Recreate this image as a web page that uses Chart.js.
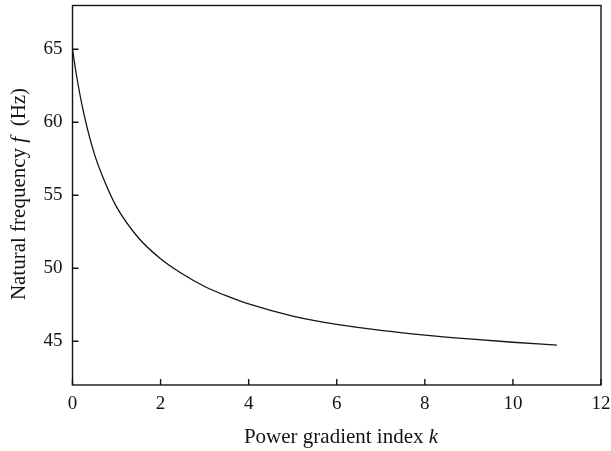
<!DOCTYPE html>
<html>
<head>
<meta charset="utf-8">
<script src="https://cdn.jsdelivr.net/npm/chart.js@4"></script>
<style>
  html, body { margin: 0; padding: 0; background: #fff; }
  #wrap { width: 611px; height: 451px; }
</style>
</head>
<body>
<div id="wrap"><canvas id="freqChart"></canvas></div>
<script>
// power gradient index k and natural frequency f (Hz)
const kValues = [0, 0.1, 0.25, 0.5, 0.75, 1, 1.5, 2, 2.5, 3, 3.5, 4, 5, 6, 7, 8, 9, 10, 11];
const freqValues = [65, 63.05, 60.7, 57.8, 55.8, 54.2, 52.07, 50.65, 49.6, 48.75, 48.1, 47.55, 46.72, 46.15, 45.74, 45.42, 45.16, 44.93, 44.73];
const xTicks = [0, 2, 4, 6, 8, 10, 12];
const yTicks = [45, 50, 55, 60, 65];

const ink = '#141414';
const serif = '"Liberation Serif", "DejaVu Serif", serif';

// draw a title made of plain and italic pieces, centred on cx
function mixedText(ctx, parts, cx, y) {
  const widths = parts.map(p => { ctx.font = p[1] + ' 21px ' + serif; return ctx.measureText(p[0]).width; });
  let x = cx - widths.reduce((a, b) => a + b, 0) / 2;
  parts.forEach((p, i) => {
    ctx.font = p[1] + ' 21px ' + serif;
    ctx.fillText(p[0], x, y);
    x += widths[i];
  });
}

// box round the plot, short inward ticks, axis titles
const frame = {
  id: 'frame',
  afterDraw(chart) {
    const { ctx, chartArea: a, scales } = chart;
    ctx.save();
    ctx.strokeStyle = ink;
    ctx.lineWidth = 1.4;
    ctx.strokeRect(a.left, a.top, a.right - a.left, a.bottom - a.top);
    ctx.beginPath();
    xTicks.forEach(v => {
      const x = scales.x.getPixelForValue(v);
      ctx.moveTo(x, a.bottom);
      ctx.lineTo(x, a.bottom - 6);
    });
    yTicks.forEach(v => {
      const y = scales.y.getPixelForValue(v);
      ctx.moveTo(a.left, y);
      ctx.lineTo(a.left + 6, y);
    });
    ctx.stroke();

    ctx.fillStyle = ink;
    ctx.textBaseline = 'alphabetic';
    ctx.textAlign = 'left';
    mixedText(ctx, [['Power gradient index ', 'normal'], ['k', 'italic']], 341, 443);
    ctx.translate(25, 194);
    ctx.rotate(-Math.PI / 2);
    mixedText(ctx, [['Natural frequency ', 'normal'], ['f', 'italic'], ['  (Hz)', 'normal']], 0, 0);
    ctx.restore();
  }
};

const ctx = document.getElementById('freqChart').getContext('2d');
new Chart(ctx, {
  type: 'line',
  data: {
    datasets: [{
      data: kValues.map((k, i) => ({ x: k, y: freqValues[i] })),
      borderColor: ink,
      borderWidth: 1.3,
      pointRadius: 0,
      fill: false,
      cubicInterpolationMode: 'monotone'
    }]
  },
  options: {
    responsive: true,
    maintainAspectRatio: false,
    animation: false,
    layout: { padding: { top: 5.5, right: 10, left: 0, bottom: 0 } },
    plugins: { legend: { display: false }, tooltip: { enabled: false } },
    scales: {
      x: {
        type: 'linear',
        min: 0,
        max: 12,
        afterBuildTicks: s => { s.ticks = xTicks.map(v => ({ value: v })); },
        afterFit: s => { s.height = 66; s.paddingLeft = 0; s.paddingRight = 0; },
        grid: { display: false, drawTicks: false },
        border: { display: false },
        ticks: { color: ink, padding: 8, maxRotation: 0, font: { family: serif, size: 19 } }
      },
      y: {
        min: 42,
        max: 68,
        afterBuildTicks: s => { s.ticks = yTicks.map(v => ({ value: v })); },
        afterFit: s => { s.width = 72.5; s.paddingTop = 0; s.paddingBottom = 0; },
        grid: { display: false, drawTicks: false },
        border: { display: false },
        ticks: { color: ink, padding: 10, font: { family: serif, size: 19 } }
      }
    }
  },
  plugins: [frame]
});
</script>
</body>
</html>
